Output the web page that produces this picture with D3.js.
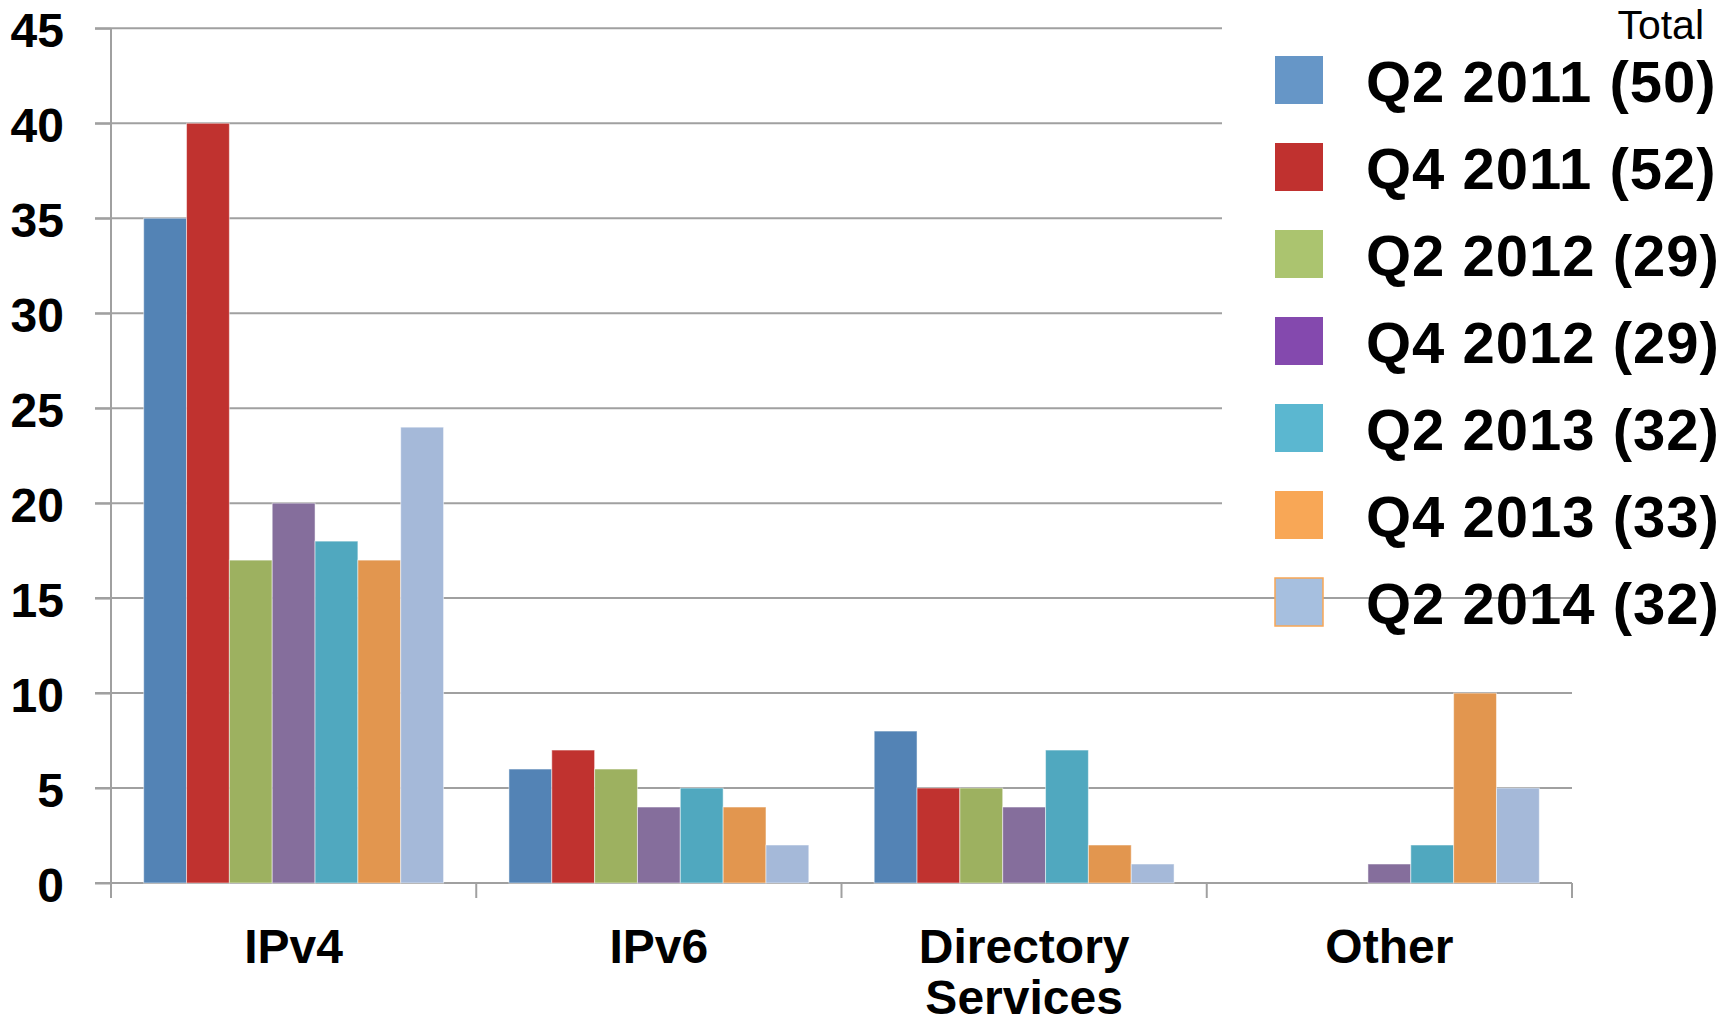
<!DOCTYPE html>
<html>
<head>
<meta charset="utf-8">
<script src="https://cdn.jsdelivr.net/npm/d3@7"></script>
<style>
  body { margin: 0; background: #fff; }
  svg { display: block; }
</style>
</head>
<body>
<div id="vis"></div>
<script>
const categories = ["IPv4", "IPv6", "Directory Services", "Other"];
const categoryLines = [["IPv4"], ["IPv6"], ["Directory", "Services"], ["Other"]];
const series = ["Q2 2011", "Q4 2011", "Q2 2012", "Q4 2012", "Q2 2013", "Q4 2013", "Q2 2014"];
const totals = [50, 52, 29, 29, 32, 33, 32];
const values = [
  [35, 6, 8, 0],   // Q2 2011
  [40, 7, 5, 0],   // Q4 2011
  [17, 6, 5, 0],   // Q2 2012
  [20, 4, 4, 1],   // Q4 2012
  [18, 5, 7, 2],   // Q2 2013
  [17, 4, 2, 10],  // Q4 2013
  [24, 2, 1, 5]    // Q2 2014
];
const yTicks = [0, 5, 10, 15, 20, 25, 30, 35, 40, 45];

const barColors = ["#5383b5", "#c0322f", "#9db160", "#856e9c", "#50a8bf", "#e2964f", "#a5b9d9"];
const swatchColors = ["#6696c7", "#c0312f", "#abc46f", "#8449ae", "#5bb7d0", "#f8a756", "#a6bfdf"];

const W = 1735, H = 1024;
const plot = {left: 111, right: 1572, top: 28.3, bottom: 883};
const gridColor = "#a0a0a0";
const boldFont = "'Liberation Sans', Arial, sans-serif";

const svg = d3.select("#vis").append("svg")
    .attr("width", W)
    .attr("height", H);

const y = d3.scaleLinear().domain([0, 45]).range([plot.bottom, plot.top]);
const x0 = d3.scaleBand()
    .domain(categories)
    .range([plot.left, plot.right])
    .paddingInner(0.179)
    .paddingOuter(0.0895);
const x1 = d3.scaleBand()
    .domain(series)
    .range([0, x0.bandwidth()]);

// gridlines
svg.append("g")
    .selectAll("line")
    .data(yTicks)
    .join("line")
    .attr("x1", plot.left - 16)
    .attr("x2", plot.right)
    .attr("y1", d => y(d))
    .attr("y2", d => y(d))
    .attr("stroke", gridColor)
    .attr("stroke-width", 2);

// y axis (labels only; tick marks come from the gridlines)
const yAxis = svg.append("g")
    .attr("transform", `translate(${plot.left},0)`)
    .call(d3.axisLeft(y).tickValues(yTicks).tickSize(16).tickPadding(31));
yAxis.select(".domain").remove();
yAxis.selectAll(".tick line").attr("stroke", gridColor).attr("stroke-width", 2);
yAxis.selectAll(".tick text")
    .attr("font-family", boldFont)
    .attr("font-weight", "bold")
    .attr("font-size", 48)
    .attr("dy", "0.38em")
    .attr("fill", "#000");

svg.append("line")
    .attr("x1", plot.left).attr("x2", plot.left)
    .attr("y1", plot.top).attr("y2", plot.bottom + 15)
    .attr("stroke", gridColor)
    .attr("stroke-width", 2);

// category boundary ticks
const step = x0.step();
svg.append("g")
    .selectAll("line")
    .data(d3.range(categories.length + 1))
    .join("line")
    .attr("x1", i => x0.range()[0] + i * step)
    .attr("x2", i => x0.range()[0] + i * step)
    .attr("y1", plot.bottom)
    .attr("y2", plot.bottom + 15)
    .attr("stroke", gridColor)
    .attr("stroke-width", 2);

// bars
const groups = svg.append("g")
    .selectAll("g")
    .data(series)
    .join("g")
    .attr("fill", (d, i) => barColors[i]);

groups.selectAll("rect")
    .data((s, si) => categories.map((c, ci) => ({s, c, v: values[si][ci]})))
    .join("rect")
    .attr("x", d => x0(d.c) + x1(d.s))
    .attr("y", d => y(d.v))
    .attr("width", x1.bandwidth())
    .attr("height", d => y(0) - y(d.v))
    .attr("stroke", "#ffffff")
    .attr("stroke-opacity", 0.5)
    .attr("stroke-width", 1)
    .style("display", d => d.v > 0 ? null : "none");

// category labels
const catLabels = svg.append("g")
    .selectAll("text")
    .data(categories)
    .join("text")
    .attr("x", d => x0(d) + x0.bandwidth() / 2)
    .attr("y", 963)
    .attr("text-anchor", "middle")
    .attr("font-family", boldFont)
    .attr("font-weight", "bold")
    .attr("font-size", 48)
    .attr("fill", "#000");

catLabels.selectAll("tspan")
    .data((d, i) => categoryLines[i])
    .join("tspan")
    .attr("x", function() { return d3.select(this.parentNode).attr("x"); })
    .attr("dy", (d, i) => i === 0 ? 0 : 51)
    .text(d => d);

// legend
svg.append("rect")
    .attr("x", 1222)
    .attr("y", 0)
    .attr("width", W - 1222)
    .attr("height", 565)
    .attr("fill", "#fff");

svg.append("text")
    .attr("x", 1704)
    .attr("y", 39)
    .attr("text-anchor", "end")
    .attr("font-family", "'Liberation Sans', sans-serif")
    .attr("font-size", 41)
    .attr("fill", "#000")
    .text("Total");

const legendRows = svg.append("g")
    .selectAll("g")
    .data(series)
    .join("g")
    .attr("transform", (d, i) => `translate(1275,${80 + i * 87})`);

legendRows.append("rect")
    .attr("x", 0)
    .attr("y", -24)
    .attr("width", 48)
    .attr("height", 48)
    .attr("fill", (d, i) => swatchColors[i])
    .attr("stroke", (d, i) => i === series.length - 1 ? "#f8a756" : "none")
    .attr("stroke-width", 1.5);

legendRows.append("text")
    .attr("x", 91)
    .attr("y", 22)
    .attr("font-family", boldFont)
    .attr("font-weight", "bold")
    .attr("font-size", 58)
    .attr("letter-spacing", 1)
    .attr("fill", "#000")
    .text((d, i) => `${d} (${totals[i]})`);
</script>
</body>
</html>
